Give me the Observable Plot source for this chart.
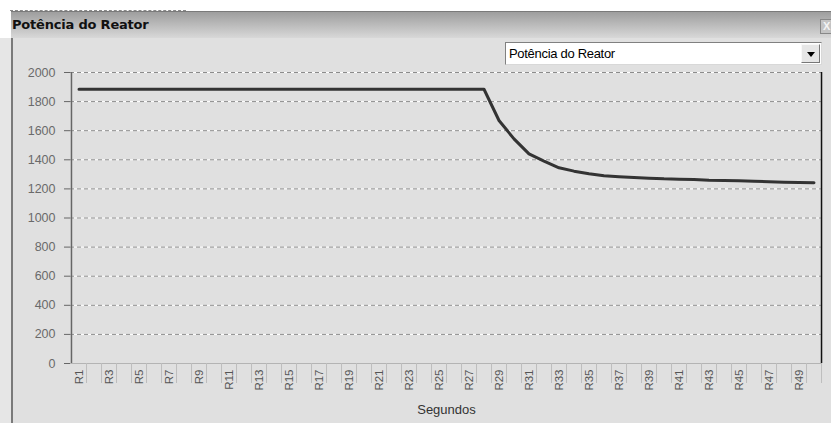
<!DOCTYPE html>
<html><head><meta charset="utf-8">
<script src="https://cdn.jsdelivr.net/npm/d3@7"></script>
<script src="https://cdn.jsdelivr.net/npm/@observablehq/plot@0.6"></script>
<style>
html,body{margin:0;padding:0;background:#fff;}
#win{position:relative;width:831px;height:423px;overflow:hidden;background:#fff;font-family:"Liberation Sans",Arial,sans-serif;}
#dash{position:absolute;left:10px;top:10px;width:176px;height:0;border-top:1px dashed #888;}
#titlebar{position:absolute;left:11px;top:11px;width:820px;height:26px;background:linear-gradient(#9e9e9e,#d8d8d8);border-top:1px solid #7a7a7a;}
#title{position:absolute;left:1px;top:5px;font-family:"DejaVu Sans",sans-serif;font-weight:bold;font-size:13px;color:#111;white-space:nowrap;letter-spacing:-0.2px;}
#close{position:absolute;left:820px;top:19px;width:14px;height:15px;background:#c4c4c4;border:1px solid #888;box-sizing:border-box;color:#f4f4f4;font-weight:bold;font-size:11px;line-height:13px;padding-left:2px;}
#left{position:absolute;left:0;top:38px;width:11px;height:385px;background:#e6e6e6;}
#body{position:absolute;left:11px;top:38px;width:820px;height:385px;background:#e0e0e0;border-left:2px solid #7a7a7a;box-sizing:border-box;}
#sel{position:absolute;left:505px;top:42px;width:317px;height:23px;background:#fff;border:1px solid;border-color:#808080 #d8d8d8 #d8d8d8 #808080;box-sizing:border-box;}
#seltxt{position:absolute;left:3px;top:3px;font-size:13px;color:#000;white-space:nowrap;letter-spacing:-0.3px;}
#btn{position:absolute;right:1px;top:1px;width:19px;height:19px;background:#e6e6e6;border:1px solid;border-color:#f8f8f8 #777 #777 #f8f8f8;box-sizing:border-box;}
#tri{position:absolute;left:5px;top:7px;width:0;height:0;border-left:4px solid transparent;border-right:4px solid transparent;border-top:5px solid #000;}
#chart{position:absolute;left:0;top:0;}
</style>
</head><body>
<div id="win">
  <div id="dash"></div>
  <div id="titlebar"><div id="title">Potência do Reator</div></div>
  <div id="close">X</div>
  <div id="left"></div>
  <div id="body"></div>
  <div id="sel"><div id="seltxt">Potência do Reator</div><div id="btn"><div id="tri"></div></div></div>
  <div id="chart"></div>
</div>
<script>
const categories = ["R1","R2","R3","R4","R5","R6","R7","R8","R9","R10",
  "R11","R12","R13","R14","R15","R16","R17","R18","R19","R20",
  "R21","R22","R23","R24","R25","R26","R27","R28","R29","R30",
  "R31","R32","R33","R34","R35","R36","R37","R38","R39","R40",
  "R41","R42","R43","R44","R45","R46","R47","R48","R49","R50"];
const potencia = [1885,1885,1885,1885,1885,1885,1885,1885,1885,1885,
  1885,1885,1885,1885,1885,1885,1885,1885,1885,1885,
  1885,1885,1885,1885,1885,1885,1885,1885,1670,1544,
  1441,1391,1345,1322,1304,1290,1283,1278,1274,1269,
  1267,1265,1260,1258,1256,1253,1249,1246,1244,1243];
const xLabels = ["R1","R3","R5","R7","R9","R11","R13","R15","R17","R19","R21","R23","R25",
  "R27","R29","R31","R33","R35","R37","R39","R41","R43","R45","R47","R49"];
const yTicks = [0,200,400,600,800,1000,1200,1400,1600,1800,2000];
const xTitle = "Segundos";

const data = categories.map((c, i) => ({cat: c, val: potencia[i]}));
const W = 831, H = 423, mL = 70, mR = 9, mT = 72, mB = 60;
const bw = (W - mL - mR) / categories.length;

const chart = Plot.plot({
  width: W, height: H,
  marginLeft: mL, marginRight: mR, marginTop: mT, marginBottom: mB,
  style: {background: "transparent", fontFamily: "Liberation Sans, Arial, sans-serif", overflow: "visible"},
  x: {type: "band", domain: categories, padding: 0},
  y: {domain: [0, 2000]},
  marks: [
    Plot.ruleY(yTicks.slice(1), {stroke: "#ffffff", strokeWidth: 1}),
    Plot.ruleY(yTicks.slice(1), {stroke: "#8c8c8c", strokeWidth: 1, strokeDasharray: "4,3"}),
    Plot.ruleY([0], {stroke: "#b4b4b4", strokeWidth: 1}),
    Plot.axisY({ticks: yTicks, tickFormat: d => String(d), tickSize: 6, tickPadding: 9, fontSize: 12.5, stroke: "#666", fill: "#6a6a6a", label: null}),
    Plot.ruleX(["R1"], {dx: -bw / 2, y1: 0, y2: 2000, stroke: "#666", strokeWidth: 1.5}),
    Plot.ruleX(["R50"], {dx: bw / 2, y1: 0, y2: 2000, stroke: "#111", strokeWidth: 1.5}),
    Plot.axisX({ticks: categories, tickSize: 20, tickFormat: () => "", dx: bw / 2, stroke: "#bdbdbd", label: null}),
    Plot.axisX({ticks: xLabels, tickSize: 0, tickPadding: 6, tickRotate: -90, fontSize: 11.5, fill: "#555", label: null}),
    Plot.text([xTitle], {frameAnchor: "bottom", dy: 50, fontSize: 13, fill: "#333"}),
    Plot.line(data, {x: "cat", y: "val", stroke: "#333", strokeWidth: 3})
  ]
});
document.getElementById("chart").appendChild(chart);
</script>
</body></html>
